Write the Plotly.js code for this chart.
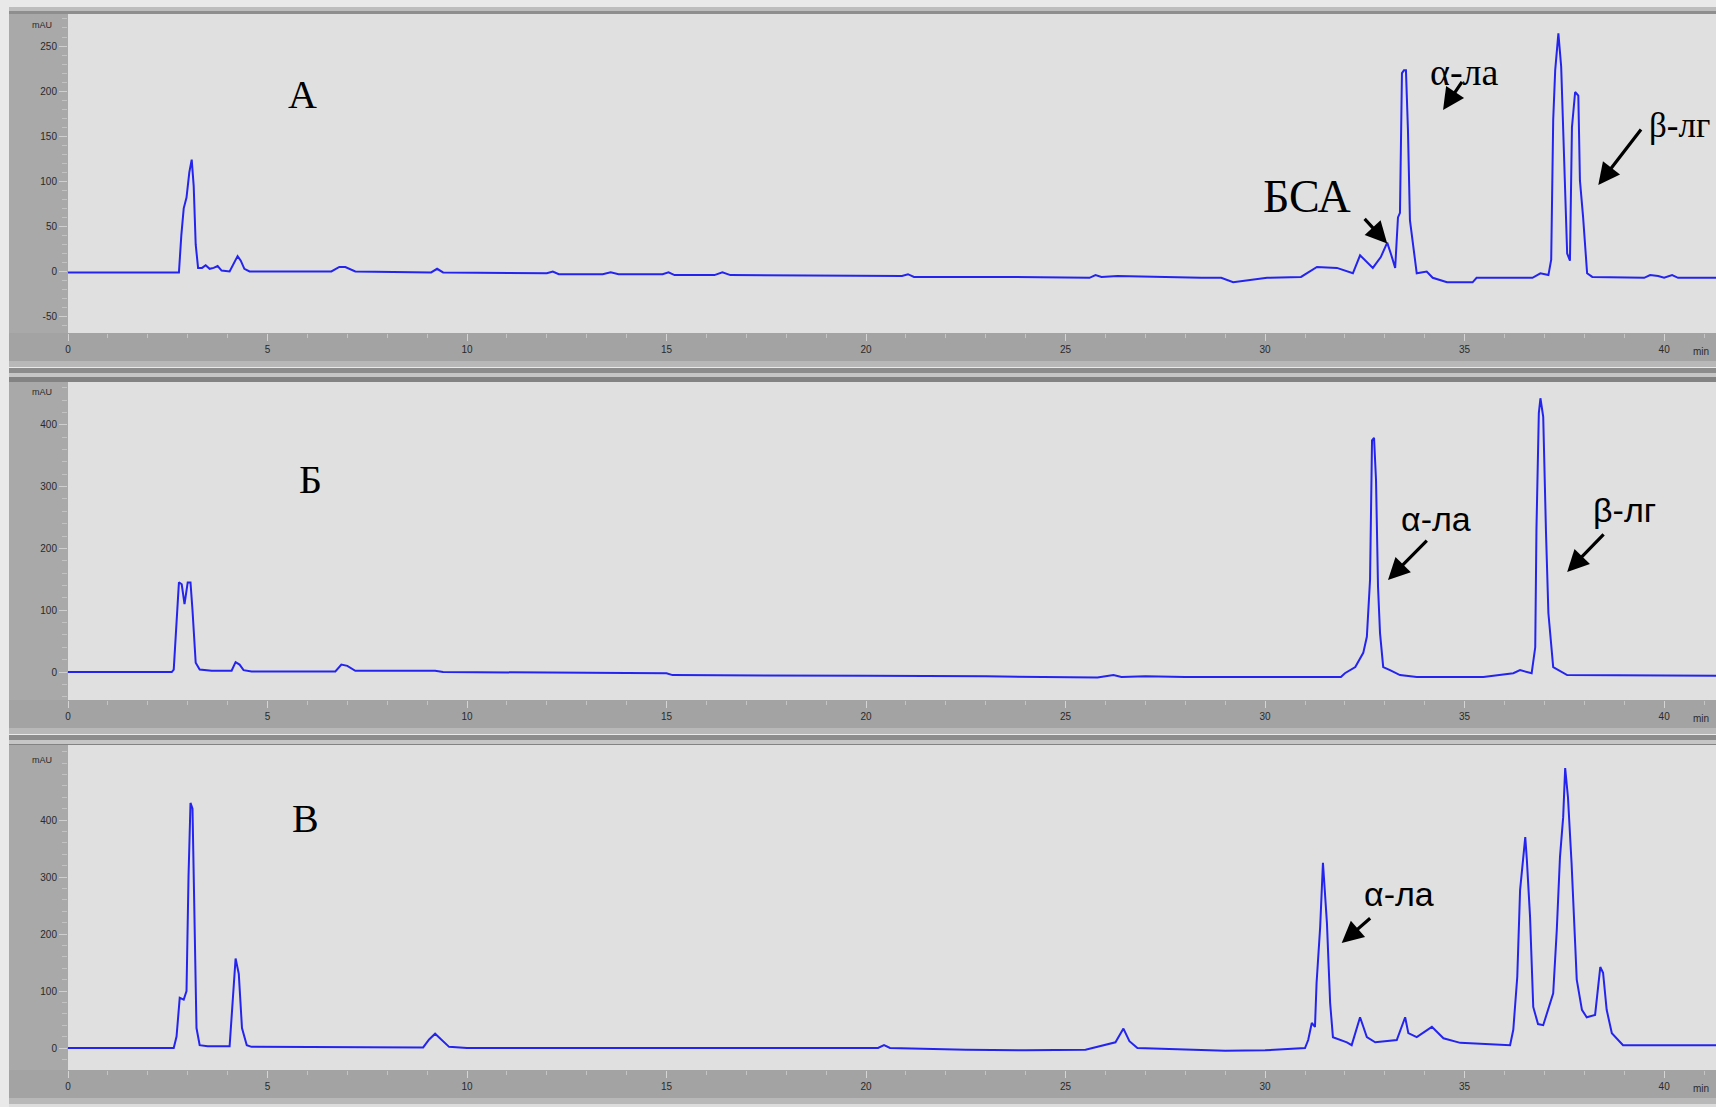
<!DOCTYPE html>
<html>
<head>
<meta charset="utf-8">
<script src="https://cdn.plot.ly/plotly-3.0.1.min.js"></script>
<style>
  html, body { margin: 0; padding: 0; background: #e9e9e9; overflow: hidden; }
  #chart { width: 1716px; height: 1107px; }
</style>
</head>
<body>
<div id="chart"></div>
<script>
// ---------------- DATA ----------------
// Panel А : time (min) / signal (mAU)
const timeA = [0, 2.78, 2.84, 2.90, 2.97, 3.04, 3.10, 3.15, 3.20, 3.26, 3.36, 3.45, 3.55, 3.65, 3.75, 3.85, 4.05, 4.15, 4.25, 4.33, 4.42, 4.55,
  6.6, 6.8, 6.95, 7.2, 9.1, 9.25, 9.4, 12.0, 12.15, 12.3, 13.4, 13.6, 13.8, 14.9, 15.05, 15.2, 16.2, 16.4, 16.6,
  20.9, 21.05, 21.2, 23.5, 25.6, 25.75, 25.9, 26.3, 28.4, 28.9, 29.2, 30.05, 30.9, 31.3, 31.8, 32.2, 32.38, 32.7,
  32.9, 33.06, 33.15, 33.26, 33.33, 33.38, 33.43, 33.48, 33.53, 33.58, 33.63, 33.71, 33.8, 34.05, 34.2, 34.56, 35.2, 35.3,
  36.7, 36.9, 37.1, 37.17, 37.22, 37.27, 37.35, 37.42, 37.47, 37.57, 37.64, 37.69, 37.77, 37.85, 37.89, 37.97, 38.07, 38.2,
  39.5, 39.65, 39.85, 40.0, 40.2, 40.35, 41.3];
const signalA = [-1, -1, 40, 70, 82, 110, 124, 95, 30, 4, 4, 7, 3, 4, 6, 1, 0, 8, 17, 12, 3, 0,
  0, 5, 5, 0, -1, 3, -1, -2, 0, -3, -3, -1, -3, -3, -1, -4, -4, -1, -4,
  -5, -3, -6, -6, -7, -4, -6, -5, -7, -7, -12, -7, -6, 5, 4, -2, 18, 4,
  16, 32, 20, 4, 60, 65, 220, 223, 223, 157, 57, 27, -2, 0, -7, -12, -12, -7,
  -7, -2, -4, 13, 168, 223, 264, 227, 160, 20, 12, 160, 199, 195, 101, 60, -2, -6,
  -7, -4, -5, -7, -4, -7, -7];

// Panel Б
const timeB = [0, 2.6, 2.65, 2.72, 2.78, 2.85, 2.92, 3.0, 3.07, 3.12, 3.2, 3.3, 3.6, 4.1, 4.2, 4.3, 4.4, 4.6,
  6.7, 6.85, 7.0, 7.2, 9.0, 9.2, 9.4, 15.0, 15.15, 15.3, 20.0, 23.0, 25.0, 25.8, 26.2, 26.4, 27.0, 28.0, 31.9, 32.0,
  32.26, 32.46, 32.55, 32.63, 32.68, 32.73, 32.78, 32.83, 32.88, 32.96, 33.13, 33.38, 33.8, 35.47, 36.22, 36.39, 36.68,
  36.77, 36.8, 36.86, 36.9, 36.97, 37.04, 37.1, 37.22, 37.57, 41.3];
const signalB = [0, 0, 4, 80, 145, 142, 110, 145, 145, 100, 15, 4, 2, 2, 16, 12, 3, 1,
  1, 12, 10, 2, 1, 2, 0, -2, -5, -5, -6, -7, -8, -9, -5, -8, -7, -8, -8, -2,
  8, 31, 57, 149, 375, 379, 310, 138, 63, 8, 3, -5, -8, -8, -2, 3, -2,
  40, 230, 419, 443, 413, 225, 95, 8, -5, -6];

// Panel В
const timeC = [0, 2.65, 2.72, 2.8, 2.9, 2.97, 3.02, 3.07, 3.12, 3.17, 3.22, 3.3, 3.5, 4.05, 4.12, 4.2, 4.28, 4.36, 4.48, 4.6,
  8.9, 9.05, 9.2, 9.35, 9.55, 10.0, 20.3, 20.45, 20.6, 22.5, 24.0, 25.5, 26.25, 26.45, 26.6, 26.8, 27.5, 29.0, 30.0, 31.0,
  31.08, 31.17, 31.25, 31.29, 31.38, 31.45, 31.55, 31.63, 31.7, 32.05, 32.17, 32.38, 32.55, 32.76, 33.3, 33.51, 33.59,
  33.8, 34.18, 34.47, 34.89, 36.14, 36.22, 36.32, 36.39, 36.52, 36.56, 36.64, 36.72, 36.84, 36.97, 37.22, 37.31, 37.39,
  37.47, 37.52, 37.59, 37.68, 37.77, 37.81, 37.94, 38.06, 38.27, 38.4, 38.47, 38.56, 38.69, 38.97, 41.3];
const signalC = [0, 0, 20, 88, 85, 100, 300, 430, 420, 250, 35, 5, 3, 3, 70, 157, 130, 35, 5, 2,
  1, 15, 25, 15, 2, 0, 0, 5, 0, -3, -4, -3, 10, 34, 12, 0, -2, -5, -4, 0,
  14, 44, 37, 114, 212, 325, 219, 79, 19, 10, 5, 54, 19, 10, 14, 54, 26,
  19, 37, 17, 9, 5, 32, 125, 277, 370, 330, 230, 72, 42, 40, 96, 207, 335,
  405, 491, 440, 325, 184, 120, 67, 54, 58, 142, 132, 67, 26, 5, 5];

// Tick labels
const xTicks = [0, 5, 10, 15, 20, 25, 30, 35, 40];
const yTicksA = [-50, 0, 50, 100, 150, 200, 250];
const yTicksB = [0, 100, 200, 300, 400];
const yTicksC = [0, 100, 200, 300, 400];
const panelLabels = ['А', 'Б', 'В'];
const unitY = 'mAU';
const unitX = 'min';

// ---------------- LAYOUT HELPERS (pixels -> paper) ----------------
const W = 1716, H = 1107;
const PX = p => p / W;
const PY = p => 1 - p / H;
const plotLeft = 68, stripLeft = 9;
const panels = [
  { top: 14,  bottom: 333,  range: [-68.2, 285.5] },
  { top: 382, bottom: 700,  range: [-45.3, 469.3] },
  { top: 745, bottom: 1070, range: [-38.6, 531.6] }
];

const lineColor = '#2424ee';
const traces = [
  { x: timeA, y: signalA, xaxis: 'x',  yaxis: 'y'  },
  { x: timeB, y: signalB, xaxis: 'x2', yaxis: 'y2' },
  { x: timeC, y: signalC, xaxis: 'x3', yaxis: 'y3' }
].map(t => Object.assign(t, { type: 'scatter', mode: 'lines', line: { color: lineColor, width: 2 }, hoverinfo: 'skip', showlegend: false }));

const tickFont = { family: 'Arial, Liberation Sans, sans-serif', size: 10, color: '#2a2a2a' };

function xAxis(anchor) {
  return {
    domain: [PX(plotLeft), 1], range: [0, 41.3], anchor: anchor,
    tickmode: 'array', tickvals: xTicks, ticktext: xTicks.map(String),
    ticks: 'outside', ticklen: 7, tickcolor: '#d4d4d4', tickwidth: 1,
    minor: { dtick: 1, ticks: 'outside', ticklen: 4, tickcolor: '#c4c4c4' },
    showgrid: false, zeroline: false, showline: false, tickfont: tickFont, fixedrange: true
  };
}
function yAxis(anchor, p, vals, minorStep) {
  return {
    domain: [PY(p.bottom), PY(p.top)], range: p.range, anchor: anchor,
    tickmode: 'array', tickvals: vals, ticktext: vals.map(String),
    ticks: 'outside', ticklen: 8, tickcolor: '#cfcfcf', tickwidth: 1,
    minor: { dtick: minorStep, ticks: 'outside', ticklen: 5, tickcolor: '#c2c2c2' },
    showgrid: false, zeroline: false, showline: false, tickfont: tickFont, fixedrange: true
  };
}

// Background shapes: strips and separators
const shapes = [];
function rect(x0, y0, x1, y1, color) {
  shapes.push({ type: 'rect', xref: 'paper', yref: 'paper', x0: PX(x0), x1: PX(x1), y0: PY(y1), y1: PY(y0),
    fillcolor: color, line: { width: 0 }, layer: 'below' });
}
// top border
rect(stripLeft, 7, W, 11, '#bdbdbd');
rect(stripLeft, 11, W, 14, '#8e8e8e');
panels.forEach((p, i) => {
  rect(plotLeft, p.top, W, p.bottom, '#e0e0e0');
  rect(stripLeft, p.top, plotLeft, p.bottom, '#a9a9a9');
  rect(stripLeft, p.bottom, W, p.bottom + 28, '#a3a3a3');
  rect(stripLeft, p.bottom + 28, W, p.bottom + 34, '#b8b8b8');
  if (i < 2) {
    rect(stripLeft, p.bottom + 35, W, p.bottom + 40, '#8c8c8c');
    rect(stripLeft, p.bottom + 40, W, p.bottom + 44, '#c6c6c6');
    const nextTop = panels[i + 1].top;
    rect(stripLeft, p.bottom + 44, W, nextTop, '#838383');
  } else {
    rect(stripLeft, p.bottom + 34, W, H, '#dcdcdc');
  }
});

// Annotations
const serif = 'Liberation Serif, Times New Roman, serif';
const sans = 'Liberation Sans, Arial, sans-serif';
const annotations = [];
function label(text, xref, yref, x, y, size, family, xanchor) {
  annotations.push({ text: text, xref: xref, yref: yref, x: x, y: y, showarrow: false,
    xanchor: xanchor || 'center', yanchor: 'middle', font: { family: family, size: size, color: '#000' } });
}
function arrow(xref, yref, tailX, tailY, tipX, tipY) {
  annotations.push({ text: '', xref: xref, yref: yref, axref: xref, ayref: yref, x: tipX, y: tipY, ax: tailX, ay: tailY,
    showarrow: true, arrowhead: 2, arrowsize: 1.35, arrowwidth: 3.2, arrowcolor: '#000', standoff: 0, startstandoff: 0 });
}
// Panel А
label(panelLabels[0], 'x', 'y', 5.87, 196, 40, serif);
label('БСА', 'x', 'y', 31.05, 83, 46, serif);
label('α-ла', 'x', 'y', 35.0, 221, 38, serif);
label('β-лг', 'x', 'y', 39.57, 162, 35, serif, 'left');
arrow('x', 'y', 32.46, 60, 33.06, 31);
arrow('x', 'y', 34.96, 212, 34.46, 179);
arrow('x', 'y', 39.45, 159, 38.35, 96);
// Panel Б
label(panelLabels[1], 'x2', 'y2', 6.07, 311, 40, serif);
label('α-ла', 'x2', 'y2', 34.29, 248, 34, sans);
label('β-лг', 'x2', 'y2', 39.0, 262, 34, sans);
arrow('x2', 'y2', 34.09, 215, 33.08, 149);
arrow('x2', 'y2', 38.52, 225, 37.57, 162);
// Panel В
label(panelLabels[2], 'x3', 'y3', 5.94, 402, 40, serif);
label('α-ла', 'x3', 'y3', 33.36, 270, 34, sans);
arrow('x3', 'y3', 32.67, 230, 31.92, 184);

// unit labels
[25, 392, 760].forEach(py => {
  annotations.push({ text: unitY, xref: 'paper', yref: 'paper', x: PX(42), y: PY(py), showarrow: false,
    xanchor: 'center', yanchor: 'middle', font: { family: sans, size: 9, color: '#2a2a2a' } });
});
panels.forEach(p => {
  annotations.push({ text: unitX, xref: 'paper', yref: 'paper', x: PX(1691), y: PY(p.bottom + 18), showarrow: false,
    xanchor: 'left', yanchor: 'middle', font: { family: sans, size: 10, color: '#2a2a2a' } });
});

const layout = {
  width: W, height: H,
  margin: { l: 0, r: 0, t: 0, b: 0 },
  paper_bgcolor: '#e9e9e9',
  plot_bgcolor: 'rgba(0,0,0,0)',
  xaxis: xAxis('y'), yaxis: yAxis('x', panels[0], yTicksA, 10),
  xaxis2: xAxis('y2'), yaxis2: yAxis('x2', panels[1], yTicksB, 20),
  xaxis3: xAxis('y3'), yaxis3: yAxis('x3', panels[2], yTicksC, 20),
  shapes: shapes,
  annotations: annotations,
  showlegend: false
};

Plotly.newPlot('chart', traces, layout, { staticPlot: true, displayModeBar: false });
</script>
</body>
</html>
